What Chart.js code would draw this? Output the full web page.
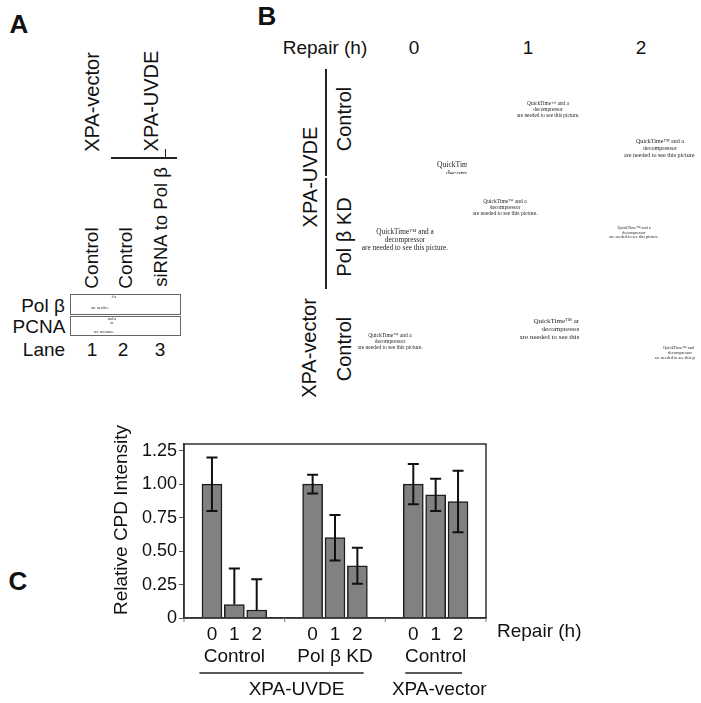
<!DOCTYPE html>
<html>
<head>
<meta charset="utf-8">
<script src="https://cdn.jsdelivr.net/npm/chart.js@4/dist/chart.umd.min.js"></script>
<style>
  html, body { margin: 0; padding: 0; background: #fff; }
  #page { position: relative; width: 701px; height: 703px; overflow: hidden; background: #fff;
          font-family: "Liberation Sans", Arial, sans-serif; color: #111; }
  .t { position: absolute; white-space: nowrap; line-height: 1; transform: translate(-50%, -50%); }
  .r { position: absolute; white-space: nowrap; line-height: 1; transform: translate(-50%, -50%) rotate(-90deg); }
  .b { font-weight: bold; font-size: 26px; }
  .qt { position: absolute; white-space: nowrap; font-family: "Liberation Serif", "Times New Roman", serif;
        text-align: center; line-height: 1.12; color: #222; transform: translateX(-50%);
        opacity: 0.99; will-change: transform; }
  .clip { position: absolute; overflow: hidden; }
  .hl { position: absolute; background: #222; }
  .box { position: absolute; border: 1px solid #666; box-sizing: border-box; }
  #chartWrap { position: absolute; left: 0; top: 380px; width: 701px; height: 323px; }
</style>
</head>
<body>
<div id="page">
  <!-- Panel A -->
  <div class="t b" style="left:19px; top:24px;">A</div>
  <div class="r" style="left:92px; top:102px; font-size:20px;">XPA-vector</div>
  <div class="r" style="left:151px; top:101px; font-size:20px;">XPA-UVDE</div>
  <div class="hl" style="left:111px; top:157px; width:66px; height:1.5px;"></div>
  <div class="hl" style="left:165px; top:149px; width:1.2px; height:9px;"></div>
  <div class="r" style="left:91px; top:258px; font-size:19px;">Control</div>
  <div class="r" style="left:125px; top:258px; font-size:19px;">Control</div>
  <div class="r" style="left:161px; top:227px; font-size:18.5px;">siRNA to Pol β</div>
  <div class="box" style="left:70px; top:294px; width:111px; height:21px;"></div>
  <div class="box" style="left:70px; top:316px; width:111px; height:20px;"></div>
  <div class="qt" style="left:114px; top:295px; font-size:4px;">d a</div>
  <div class="qt" style="left:100px; top:306px; font-size:4px;">are needec.</div>
  <div class="qt" style="left:112px; top:317px; font-size:4px;">and a<br>or</div>
  <div class="qt" style="left:104px; top:330px; font-size:4px;">are neessare.</div>
  <div class="t" style="left:43px; top:305px; font-size:19px;">Pol β</div>
  <div class="t" style="left:39px; top:326px; font-size:19px;">PCNA</div>
  <div class="t" style="left:44px; top:349px; font-size:19px;">Lane</div>
  <div class="t" style="left:92px; top:349px; font-size:19px;">1</div>
  <div class="t" style="left:123px; top:349px; font-size:19px;">2</div>
  <div class="t" style="left:160px; top:349px; font-size:19px;">3</div>

  <!-- Panel B -->
  <div class="t b" style="left:267px; top:16px;">B</div>
  <div class="t" style="left:325px; top:47px; font-size:19px;">Repair (h)</div>
  <div class="t" style="left:414px; top:47px; font-size:19px;">0</div>
  <div class="t" style="left:528px; top:47px; font-size:19px;">1</div>
  <div class="t" style="left:641px; top:47px; font-size:19px;">2</div>
  <div class="hl" style="left:325px; top:69px; width:2px; height:107px;"></div>
  <div class="hl" style="left:325px; top:178px; width:2px; height:111px;"></div>
  <div class="r" style="left:310px; top:177px; font-size:20px;">XPA-UVDE</div>
  <div class="r" style="left:344px; top:119px; font-size:20px;">Control</div>
  <div class="r" style="left:344px; top:237px; font-size:20px;">Pol β KD</div>
  <div class="r" style="left:309px; top:348px; font-size:20px;">XPA-vector</div>
  <div class="r" style="left:344px; top:349px; font-size:20px;">Control</div>

  <div class="qt" style="left:548px; top:101px; font-size:5.3px;">QuickTime™ and a<br>decompressor<br>are needed to see this picture.</div>
  <div class="clip" style="left:600px; top:130px; width:95px; height:40px;">
    <div class="qt" style="left:60px; top:8px; font-size:6.1px;">QuickTime™ and a<br>decompressor<br>are needed to see this picture.</div>
  </div>
  <div class="clip" style="left:420px; top:159px; width:47px; height:15px;">
    <div class="qt" style="left:47px; top:2px; font-size:7.6px;">QuickTime™ and a<br>decompressor<br>are needed to see this picture.</div>
  </div>
  <div class="qt" style="left:505px; top:198px; font-size:5.5px;">QuickTime™ and a<br>decompressor<br>are needed to see this picture.</div>
  <div class="qt" style="left:405px; top:228px; font-size:7.3px;">QuickTime™ and a<br>decompressor<br>are needed to see this picture.</div>
  <div class="qt" style="left:634px; top:226px; font-size:4.2px;">QuickTime™ and a<br>decompressor<br>are needed to see this picture.</div>
  <div class="qt" style="left:390px; top:332px; font-size:5.5px;">QuickTime™ and a<br>decompressor<br>are needed to see this picture.</div>
  <div class="clip" style="left:500px; top:315px; width:79px; height:30px;">
    <div class="qt" style="left:61px; top:3px; font-size:7px;">QuickTime™ and a<br>decompressor<br>are needed to see this picture.</div>
  </div>
  <div class="clip" style="left:640px; top:344px; width:55px; height:18px;">
    <div class="qt" style="left:40px; top:2px; font-size:4.3px;">QuickTime™ and a<br>decompressor<br>are needed to see this picture.</div>
  </div>

  <!-- Panel C -->
  <div class="t b" style="left:18px; top:581px;">C</div>
  <div id="chartWrap"><canvas id="c" width="701" height="323"></canvas></div>
</div>

<script>
// ---- Data ----
const groups = ['Control', 'Pol β KD', 'Control'];
const hours = ['0', '1', '2'];
const cellLines = ['XPA-UVDE', 'XPA-vector'];
const barPos = [0, 1, 2, 4.5, 5.5, 6.5, 9, 10, 11];
const cpd = [1.00, 0.10, 0.06, 1.00, 0.60, 0.39, 1.00, 0.92, 0.87];
const errUp = [0.20, 0.27, 0.23, 0.07, 0.17, 0.135, 0.15, 0.12, 0.23];
const errDown = [0.20, 0, 0, 0.07, 0.17, 0.135, 0.15, 0.12, 0.23];
const yTicks = [0, 0.25, 0.5, 0.75, 1.0, 1.25];
const yTickLabels = ['0', '0.25', '0.50', '0.75', '1.00', '1.25'];
const groupBoundaries = [-1.25, 3.25, 7.75, 12.25];

const FONT = '"Liberation Sans", Arial, sans-serif';
const INK = '#111';

const annot = {
  id: 'annot',
  afterDatasetsDraw(chart) {
    const ctx = chart.ctx, xs = chart.scales.x, ys = chart.scales.y, ca = chart.chartArea;
    ctx.save();
    // error bars
    ctx.strokeStyle = INK; ctx.lineWidth = 2;
    barPos.forEach((p, i) => {
      const x = xs.getPixelForValue(p);
      const yt = ys.getPixelForValue(cpd[i] + errUp[i]);
      const yb = ys.getPixelForValue(cpd[i] - errDown[i]);
      ctx.beginPath();
      ctx.moveTo(x, yt); ctx.lineTo(x, yb);
      ctx.moveTo(x - 5.5, yt); ctx.lineTo(x + 5.5, yt);
      if (errDown[i] > 0) { ctx.moveTo(x - 5.5, yb); ctx.lineTo(x + 5.5, yb); }
      ctx.stroke();
    });
    // frame
    ctx.strokeStyle = '#333'; ctx.lineWidth = 1.5;
    ctx.strokeRect(ca.left, ca.top, ca.right - ca.left, ca.bottom - ca.top);
    // group boundary ticks
    ctx.lineWidth = 1; ctx.strokeStyle = '#777';
    groupBoundaries.forEach(b => {
      const x = xs.getPixelForValue(b);
      ctx.beginPath(); ctx.moveTo(x, ca.bottom); ctx.lineTo(x, ca.bottom + 4); ctx.stroke();
    });
    ctx.restore();
  },
  afterDraw(chart) {
    const ctx = chart.ctx, xs = chart.scales.x, ca = chart.chartArea;
    ctx.save();
    ctx.fillStyle = INK;
    ctx.font = '19px ' + FONT;
    ctx.textBaseline = 'middle';
    // group names
    ctx.textAlign = 'center';
    groups.forEach((g, gi) => {
      const c = (barPos[gi * 3] + barPos[gi * 3 + 2]) / 2;
      ctx.fillText(g, xs.getPixelForValue(c), ca.bottom + 39);
    });
    // cell-line underlines
    ctx.strokeStyle = '#222'; ctx.lineWidth = 1.5;
    const spans = [[barPos[0] - 0.56, barPos[5] + 0.28], [barPos[6] - 0.36, barPos[8] + 0.18]];
    spans.forEach(s => {
      ctx.beginPath();
      ctx.moveTo(xs.getPixelForValue(s[0]), ca.bottom + 55);
      ctx.lineTo(xs.getPixelForValue(s[1]), ca.bottom + 55);
      ctx.stroke();
    });
    const labelPos = [3.78, 10.16];
    cellLines.forEach((c, i) => ctx.fillText(c, xs.getPixelForValue(labelPos[i]), ca.bottom + 72));
    // Repair (h)
    ctx.textAlign = 'left';
    ctx.fillText('Repair (h)', ca.right + 11, ca.bottom + 14);
    // y title
    ctx.translate(122, ca.top + 76);
    ctx.rotate(-Math.PI / 2);
    ctx.textAlign = 'center';
    ctx.fillText('Relative CPD Intensity', 0, 0);
    ctx.restore();
  }
};

new Chart(document.getElementById('c'), {
  type: 'bar',
  data: {
    datasets: [{
      data: barPos.map((x, i) => ({ x: x, y: cpd[i] })),
      backgroundColor: '#818181',
      borderColor: '#1e1e1e',
      borderWidth: 1.5,
      barThickness: 20
    }]
  },
  options: {
    responsive: false,
    animation: false,
    devicePixelRatio: 1,
    layout: { padding: { left: 0, right: 215, top: 64, bottom: 0 } },
    plugins: { legend: { display: false }, tooltip: { enabled: false } },
    scales: {
      x: {
        type: 'linear',
        offset: false,
        min: -1.25, max: 12.25,
        afterBuildTicks: s => { s.ticks = barPos.map(v => ({ value: v })); },
        afterFit: s => { s.height = 85; },
        grid: { display: false, drawTicks: false, offset: false },
        border: { display: true, color: '#333', width: 1.5 },
        ticks: {
          autoSkip: false, maxRotation: 0, padding: 5,
          color: INK, font: { size: 19, family: FONT },
          callback: (v, i) => hours[i % 3]
        }
      },
      y: {
        min: 0, max: 1.30,
        afterBuildTicks: s => { s.ticks = yTicks.map(v => ({ value: v })); },
        afterFit: s => { s.width = 184; },
        grid: { drawOnChartArea: false, drawTicks: true, tickLength: 5, color: '#555' },
        border: { display: true, color: '#333', width: 1.5 },
        ticks: {
          padding: 2, color: INK, font: { size: 18, family: FONT },
          callback: (v, i) => yTickLabels[i]
        }
      }
    }
  },
  plugins: [annot]
});
</script>
</body>
</html>
